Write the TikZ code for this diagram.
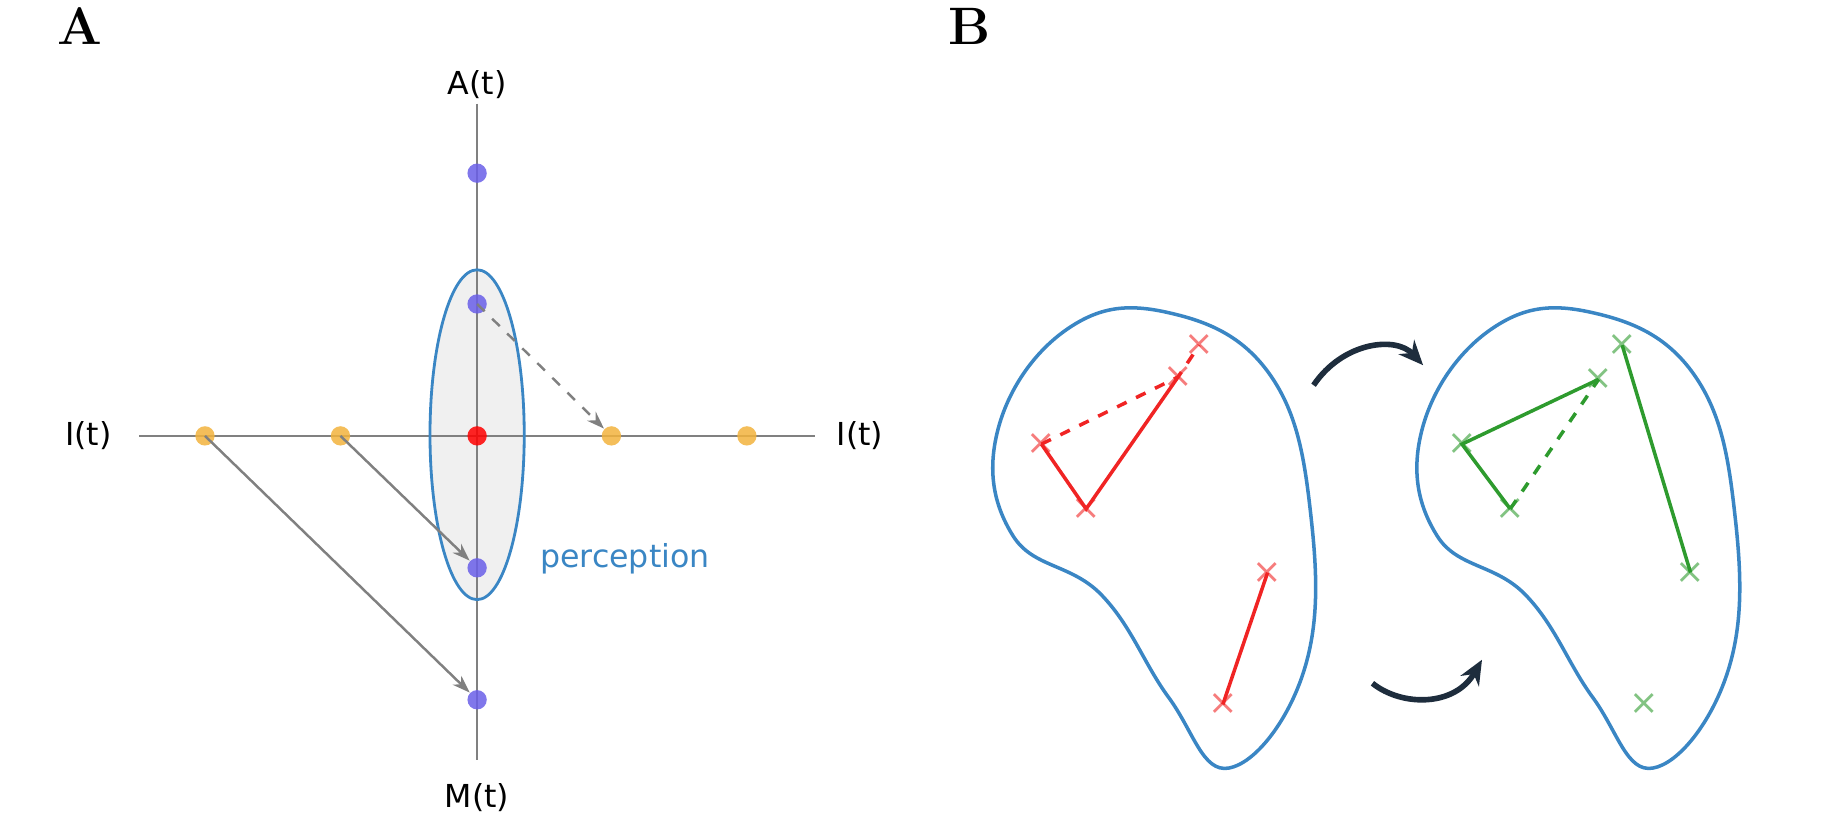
\documentclass[tikz,border=0pt]{standalone}
\usepackage{fontspec}
\setsansfont{DejaVu Sans}
\usetikzlibrary{arrows.meta}
\definecolor{bblue}{HTML}{3A86C4}
\definecolor{pt}{HTML}{6A5FE8}
\definecolor{orng}{HTML}{F2B33D}
\definecolor{gr}{HTML}{2E9B2E}
\definecolor{rd}{HTML}{F02424}
\definecolor{dark}{HTML}{1E2D3D}
\begin{document}
\begin{tikzpicture}[x=0.01178cm,y=-0.01178cm,
  dot/.style={circle,inner sep=0pt,minimum size=5.5pt,fill=#1,opacity=0.85},
  lab/.style={font=\sffamily\fontsize{9}{11}\selectfont},
  garrow/.style={draw=gray,-{Stealth[length=5pt,width=3.5pt]},line width=0.7pt},
  blob/.style={draw=bblue,line width=1pt},
  cr/.style={inner sep=0pt,font=\sffamily\fontsize{10}{10}\selectfont,text=#1,opacity=0.6},
  seg/.style={draw=#1,line width=1pt}]
\useasboundingbox (0,0) rectangle (1550,691);
\node[font=\bfseries\fontsize{15}{15}\selectfont] (pa) at (68,22) {A};
\node[font=\bfseries\fontsize{15}{15}\selectfont] (pb) at (823,22) {B};
% panel A
\fill[gray!12] (405,369) ellipse [x radius=40, y radius=140];
\draw[gray,line width=0.6pt] (118,370) -- (692,370);
\draw[gray,line width=0.6pt] (405,88) -- (405,645);
\draw[bblue,line width=0.8pt] (405,369) ellipse [x radius=40, y radius=140];
\node[lab] (lt1) at (75,370) {I(t)};
\node[lab] (lt2) at (730,370) {I(t)};
\node[lab] (at) at (405,72) {A(t)};
\node[lab] (mt) at (405,677) {M(t)};
\node[lab,text=bblue,anchor=west] (perc) at (448,474) {perception};
\node[dot=pt] (a1) at (405,147) {};
\node[dot=pt] (a2) at (405,258) {};
\node[dot=red] (o) at (405,370) {};
\node[dot=pt] (m1) at (405,482) {};
\node[dot=pt] (m2) at (405,594) {};
\node[dot=orng] (i1) at (174,370) {};
\node[dot=orng] (i2) at (289,370) {};
\node[dot=orng] (i3) at (519,370) {};
\node[dot=orng] (i4) at (634,370) {};
\draw[garrow,dashed] (a2.center) -- (i3);
\draw[garrow] (i2.center) -- (m1);
\draw[garrow] (i1.center) -- (m2);
% panel B blobs
\foreach \dx in {0,360}{
\draw[blob,xshift=\dx*0.01178cm] plot[smooth cycle,tension=0.7] coordinates {
 (990,265) (1078,318) (1113,440) (1106,572) (1043,652) (992,592) (935,505)
 (860,455) (847,365) (905,280)};
}
\foreach \n/\x/\y in {r1/1018/293,r2/1000/320,r3/884/377,r4/922/432,r5/1076/486,r6/1038/598}
  \node[cr=rd] (\n) at (\x,\y) {×};
\foreach \n/\x/\y in {g1/1377/293,g2/1357/322,g3/1241/377,g4/1282/432,g5/1435/486,g6/1396/598}
  \node[cr=gr] (\n) at (\x,\y) {×};
\draw[seg=rd,dashed] (r3.center) -- (r2.center) -- (r1.center);
\draw[seg=rd] (r3.center) -- (r4.center) -- (r2.center);
\draw[seg=rd] (r5.center) -- (r6.center);
\draw[seg=gr] (g4.center) -- (g3.center) -- (g2.center);
\draw[seg=gr,dashed] (g4.center) -- (g2.center);
\draw[seg=gr] (g1.center) -- (g5.center);
\coordinate (t1) at (1115,327); \coordinate (t2) at (1208,310);
\coordinate (b1) at (1165,580); \coordinate (b2) at (1258,560);
\draw[dark,line width=1.6pt,-{Stealth[length=7pt,width=6pt]}] (t1) .. controls (1140,290) and (1185,285) .. (t2);
\draw[dark,line width=1.6pt,-{Stealth[length=7pt,width=6pt]}] (b1) .. controls (1190,600) and (1235,600) .. (b2);
\end{tikzpicture}
\end{document}
